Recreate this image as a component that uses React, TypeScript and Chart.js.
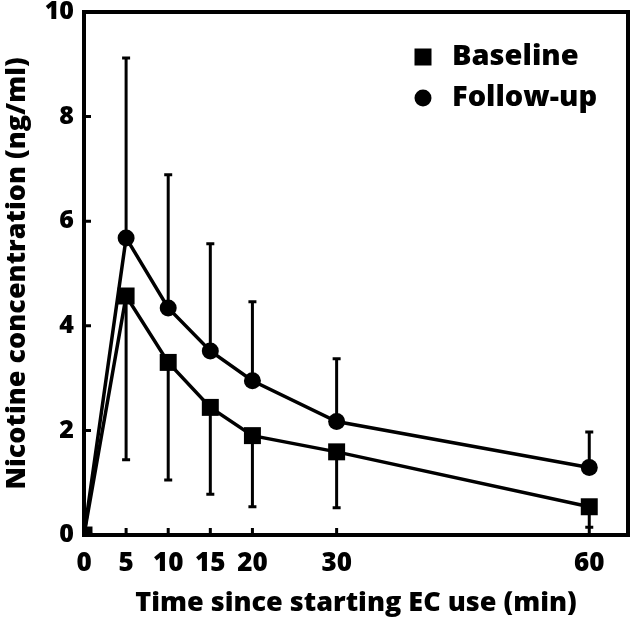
import React, { useEffect, useRef } from "react";
import { Chart, registerables } from "chart.js";

Chart.register(...registerables);

const times = [0, 5, 10, 15, 20, 30, 60];
const xTickValues = [0, 5, 10, 15, 20, 30, 60];
const yTickValues = [0, 2, 4, 6, 8, 10];
const baseline = [0, 4.57, 3.3, 2.44, 1.9, 1.59, 0.54];
const followUp = [0, 5.68, 4.34, 3.52, 2.95, 2.17, 1.29];
// error bar end points
const followUpUpper = [null, 9.12, 6.89, 5.57, 4.46, 3.37, 1.97];
const baselineLower = [null, 1.44, 1.05, 0.78, 0.54, 0.52, 0.15];

const FONT = "'Open Sans', 'DejaVu Sans', sans-serif";
const W = "800";

const boxPlugin = {
  id: "boxPlugin",
  beforeDatasetsDraw(chart: any) {
    const ctx = chart.ctx;
    const xs = chart.scales.x;
    const ys = chart.scales.y;
    ctx.save();
    ctx.strokeStyle = "#000";
    ctx.lineWidth = 3;
    const cap = 4;
    const draw = (vals: (number | null)[], means: number[]) => {
      vals.forEach((v, i) => {
        if (v === null) return;
        const x = xs.getPixelForValue(times[i]);
        const y0 = ys.getPixelForValue(means[i]);
        const y1 = ys.getPixelForValue(v);
        ctx.beginPath();
        ctx.moveTo(x, y0);
        ctx.lineTo(x, y1);
        ctx.moveTo(x - cap, y1);
        ctx.lineTo(x + cap, y1);
        ctx.stroke();
      });
    };
    draw(followUpUpper, followUp);
    draw(baselineLower, baseline);
    ctx.restore();
  },
  afterDraw(chart: any) {
    const ctx = chart.ctx;
    const a = chart.chartArea;
    const xs = chart.scales.x;
    const ys = chart.scales.y;
    ctx.save();
    ctx.strokeStyle = "#000";
    ctx.lineWidth = 4;
    ctx.strokeRect(a.left, a.top, a.right - a.left, a.bottom - a.top);
    ctx.lineWidth = 3;
    ctx.beginPath();
    xTickValues.forEach((v) => {
      const x = xs.getPixelForValue(v);
      ctx.moveTo(x, a.bottom);
      ctx.lineTo(x, a.bottom - 7);
    });
    yTickValues.forEach((v) => {
      const y = ys.getPixelForValue(v);
      ctx.moveTo(a.left, y);
      ctx.lineTo(a.left + 7, y);
    });
    ctx.stroke();
    // legend
    const lx = a.right - 205;
    const ly = a.top + 45;
    ctx.fillStyle = "#000";
    ctx.fillRect(lx - 8.5, ly - 8.5, 17, 17);
    ctx.beginPath();
    ctx.arc(lx, ly + 41, 8.5, 0, Math.PI * 2);
    ctx.fill();
    ctx.font = `${W} 29px ${FONT}`;
    ctx.textBaseline = "middle";
    ctx.textAlign = "left";
    ctx.fillText(chart.data.datasets[0].label, lx + 29, ly);
    ctx.fillText(chart.data.datasets[1].label, lx + 29, ly + 41);
    ctx.restore();
  },
};

export default function App() {
  const ref = useRef<HTMLCanvasElement | null>(null);
  useEffect(() => {
    if (!ref.current) return;
    const chart = new Chart(ref.current, {
      type: "line",
      data: {
        datasets: [
          {
            label: "Baseline",
            data: times.map((t, i) => ({ x: t, y: baseline[i] })),
            borderColor: "#000",
            backgroundColor: "#000",
            borderWidth: 3.5,
            pointStyle: "rect",
            pointRadius: 12,
            pointBorderWidth: 0,
            tension: 0,
          },
          {
            label: "Follow-up",
            data: times.map((t, i) => ({ x: t, y: followUp[i] })),
            borderColor: "#000",
            backgroundColor: "#000",
            borderWidth: 3.5,
            pointStyle: "circle",
            pointRadius: 8.5,
            pointBorderWidth: 0,
            tension: 0,
          },
        ],
      },
      options: {
        animation: false,
        responsive: false,
        maintainAspectRatio: false,
        layout: { padding: { top: 10, right: 2, left: 0, bottom: 0 } },
        plugins: { legend: { display: false }, tooltip: { enabled: false } },
        scales: {
          x: {
            type: "linear",
            min: 0,
            max: 64.6,
            afterBuildTicks: (s: any) => {
              s.ticks = xTickValues.map((v) => ({ value: v }));
            },
            afterFit: (s: any) => {
              s.height = 95;
              s.paddingLeft = 0;
              s.paddingRight = 0;
            },
            grid: { display: false, drawTicks: false },
            border: { display: false },
            ticks: {
              color: "#000",
              padding: 13,
              maxRotation: 0,
              autoSkip: false,
              font: { family: FONT, size: 26, weight: W },
            },
            title: {
              display: true,
              text: "Time since starting EC use (min)",
              color: "#000",
              padding: { top: 0, bottom: 10 },
              font: { family: FONT, size: 27, weight: W },
            },
          },
          y: {
            min: 0,
            max: 10,
            afterBuildTicks: (s: any) => {
              s.ticks = yTickValues.map((v) => ({ value: v }));
            },
            afterFit: (s: any) => {
              s.width = 84;
              s.paddingTop = 0;
              s.paddingBottom = 0;
            },
            grid: { display: false, drawTicks: false },
            border: { display: false },
            ticks: {
              color: "#000",
              padding: 10,
              font: { family: FONT, size: 25, weight: W },
            },
            title: {
              display: true,
              text: "Nicotine concentration (ng/ml)",
              color: "#000",
              padding: { top: 1, bottom: 0 },
              font: { family: FONT, size: 27, weight: W },
            },
          },
        },
      },
      plugins: [boxPlugin],
    });
    return () => chart.destroy();
  }, []);
  return (
    <div style={{ position: "fixed", left: 0, top: 0, width: 640, height: 630, background: "#fff" }}>
      <canvas ref={ref} width={640} height={630} style={{ width: 640, height: 630 }} />
    </div>
  );
}
